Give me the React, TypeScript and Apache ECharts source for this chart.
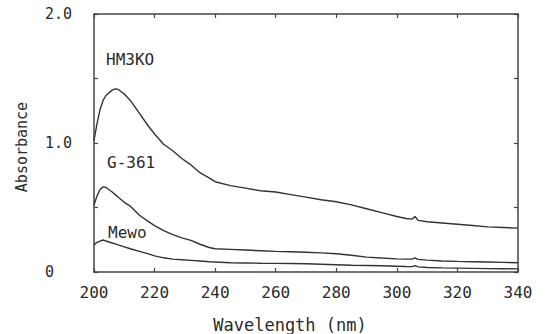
import React, { useEffect, useRef } from "react";
import * as echarts from "echarts";

const wavelengths = [200, 201, 202, 203, 204, 206, 207, 208, 210, 212, 215, 218, 220, 223, 226, 229, 232, 235, 238, 240, 245, 250, 255, 260, 265, 270, 275, 280, 285, 290, 295, 300, 303, 305, 306, 307, 310, 315, 320, 325, 330, 335, 340];

const hm3ko = [1.02, 1.15, 1.26, 1.33, 1.37, 1.41, 1.42, 1.415, 1.38, 1.33, 1.23, 1.13, 1.07, 0.99, 0.94, 0.88, 0.83, 0.77, 0.73, 0.70, 0.67, 0.65, 0.63, 0.62, 0.60, 0.58, 0.56, 0.545, 0.52, 0.49, 0.46, 0.43, 0.415, 0.41, 0.43, 0.40, 0.39, 0.38, 0.37, 0.36, 0.35, 0.345, 0.34];

const g361 = [0.52, 0.59, 0.64, 0.66, 0.655, 0.62, 0.60, 0.58, 0.54, 0.51, 0.44, 0.39, 0.36, 0.32, 0.29, 0.265, 0.245, 0.215, 0.19, 0.18, 0.175, 0.17, 0.165, 0.16, 0.157, 0.153, 0.148, 0.142, 0.13, 0.115, 0.108, 0.102, 0.10, 0.10, 0.11, 0.098, 0.092, 0.085, 0.082, 0.08, 0.078, 0.075, 0.072];

const mewo = [0.21, 0.23, 0.24, 0.248, 0.24, 0.225, 0.218, 0.21, 0.195, 0.18, 0.16, 0.14, 0.125, 0.11, 0.10, 0.095, 0.09, 0.085, 0.08, 0.078, 0.072, 0.07, 0.068, 0.067, 0.066, 0.064, 0.06, 0.056, 0.052, 0.05, 0.048, 0.045, 0.043, 0.042, 0.05, 0.04, 0.035, 0.032, 0.03, 0.028, 0.026, 0.025, 0.024];

const seriesNames = ["HM3KO", "G-361", "Mewo"];
const xTicks = [200, 220, 240, 260, 280, 300, 320, 340];
const yLabels: Record<string, string> = { "0": "0", "1": "1.0", "2": "2.0" };

const FONT = "'DejaVu Sans Mono', 'Liberation Mono', monospace";
const INK = "#2a2a2a";

export default function App() {
  const ref = useRef<HTMLDivElement>(null);
  useEffect(() => {
    if (!ref.current) return;
    const chart = echarts.init(ref.current, undefined, { renderer: "svg" });
    const pairs = (ys: number[]) => wavelengths.map((w, i) => [w, ys[i]]);
    const lineStyle = { color: "#333", width: 1.4 };
    const axisLine = { show: true, onZero: false, lineStyle: { color: "#444", width: 1.5 } };
    const tick = { show: true, inside: true, length: 4, lineStyle: { color: "#444", width: 1.2 } };
    chart.setOption({
      animation: false,
      backgroundColor: "#ffffff",
      grid: { left: 94, right: 27, top: 14, bottom: 62, containLabel: false },
      xAxis: [
        {
          type: "value", min: 200, max: 340, interval: 20, position: "bottom",
          axisLine, axisTick: tick, splitLine: { show: false },
          axisLabel: {
            margin: 12, fontFamily: FONT, fontSize: 16, color: INK,
            formatter: (v: number) => (xTicks.includes(v) ? String(v) : ""),
          },
        },
        {
          type: "value", min: 200, max: 340, interval: 20, position: "top",
          axisLine, axisTick: tick, splitLine: { show: false }, axisLabel: { show: false },
        },
      ],
      yAxis: [
        {
          type: "value", min: 0, max: 2, interval: 0.5, position: "left",
          axisLine, axisTick: tick, splitLine: { show: false },
          axisLabel: {
            align: "left", margin: 49, fontFamily: FONT, fontSize: 15, color: INK,
            formatter: (v: number) => yLabels[String(v)] ?? "",
          },
        },
        {
          type: "value", min: 0, max: 2, interval: 0.5, position: "right",
          axisLine, axisTick: tick, splitLine: { show: false }, axisLabel: { show: false },
        },
      ],
      series: [
        { name: seriesNames[0], type: "line", data: pairs(hm3ko), showSymbol: false, lineStyle },
        { name: seriesNames[1], type: "line", data: pairs(g361), showSymbol: false, lineStyle },
        { name: seriesNames[2], type: "line", data: pairs(mewo), showSymbol: false, lineStyle },
      ],
      graphic: [
        { type: "text", left: 106, top: 51, style: { text: seriesNames[0], fontFamily: FONT, fontSize: 16, fill: INK } },
        { type: "text", left: 107, top: 154, style: { text: seriesNames[1], fontFamily: FONT, fontSize: 16, fill: INK } },
        { type: "text", left: 108, top: 224, style: { text: seriesNames[2], fontFamily: FONT, fontSize: 16, fill: INK } },
        {
          type: "text", x: 290, y: 325,
          style: { text: "Wavelength (nm)", fontFamily: FONT, fontSize: 17, fill: INK, align: "center", verticalAlign: "middle" },
        },
        {
          type: "text", x: 22, y: 147, rotation: Math.PI / 2,
          style: { text: "Absorbance", fontFamily: FONT, fontSize: 15, fill: INK, align: "center", verticalAlign: "middle" },
        },
      ],
    });
    return () => chart.dispose();
  }, []);
  return <div ref={ref} style={{ width: 545, height: 334, position: "absolute", left: 0, top: 0 }} />;
}
